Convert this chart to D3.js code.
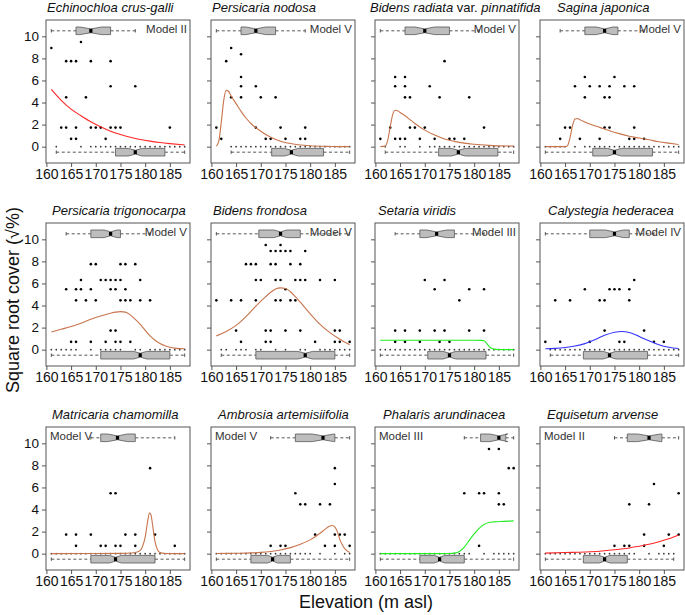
<!DOCTYPE html>
<html><head><meta charset="utf-8">
<script src="https://cdn.jsdelivr.net/npm/d3@7"></script>
<style>
body{margin:0;background:#fff}
svg{display:block}
text{font-family:"Liberation Sans",Arial,sans-serif}
</style>
</head><body>
<svg id="c" width="685" height="615"></svg>
<script>
// ---------------- DATA ----------------
const species = ["Echinochloa crus-galli","Persicaria nodosa","Bidens radiata var. pinnatifida","Sagina japonica",
  "Persicaria trigonocarpa","Bidens frondosa","Setaria viridis","Calystegia hederacea",
  "Matricaria chamomilla","Ambrosia artemisiifolia","Phalaris arundinacea","Equisetum arvense"];
const models = ["II","V","V","V","V","V","III","IV","V","V","III","II"];
const xTicks = [160,165,170,175,180,185];
const yTicks = [0,2,4,6,8,10];

// observed cover (elevation, sqrt cover) where present
const points = [
 [[161,8.94],[167,9.49],[164,7.75],[165,7.75],[166,7.75],[169,7.75],[173,7.75],[173,5.48],[178,5.48],[164,4.47],[168,4.47],
  [163,1.73],[164,1.73],[166,1.73],[169,1.73],[170,1.73],[171,1.73],[173,1.73],[174,1.73],[175,1.73],[185,1.73],[165,0.71],[166,0.71],[172,0.71]],
 [[164,8.94],[163,7.75],[166,8.37],[166,6.32],[166,5.48],[169,5.48],[164,4.47],[166,4.47],[170,4.47],[173,4.47],
  [161,1.73],[169,1.73],[174,1.73],[179,1.73],[162,0.71],[171,0.71],[172,0.71],[175,0.71],[178,0.71],[179,0.71]],
 [[174,7.75],[164,6.32],[166,6.32],[164,5.48],[166,5.48],[171,5.48],[166,4.47],[167,4.47],[173,4.47],[179,4.47],
  [163,1.73],[167,1.73],[168,1.73],[170,1.73],[182,1.73],[161,0.71],[164,0.71],[165,0.71],[166,0.71],[169,0.71],[172,0.71],[175,0.71],[176,0.71],[178,0.71]],
 [[169,6.32],[175,6.32],[167,5.48],[170,5.48],[172,5.48],[174,5.48],[177,5.48],[179,5.48],[169,4.47],[173,4.47],[174,4.47],
  [165,1.73],[166,1.73],[173,1.73],[174,1.73],[179,1.73],[164,0.71],[168,0.71],[172,0.71],[178,0.71],[179,0.71],[181,0.71]],
 [[169,7.75],[170,7.75],[175,7.75],[176,7.75],[178,7.75],
  [167,6.32],[171,6.32],[172,6.32],[173,6.32],[174,6.32],[175,6.32],[179,6.32],
  [164,5.48],[166,5.48],[167,5.48],[169,5.48],[173,5.48],[174,5.48],[176,5.48],
  [166,4.47],[168,4.47],[170,4.47],[175,4.47],[176,4.47],[177,4.47],[179,4.47],[181,4.47],
  [173,1.73],[174,1.73],
  [165,0.71],[166,0.71],[169,0.71],[172,0.71],[174,0.71],[175,0.71],[177,0.71]],
 [[171,9.49],[174,9.49],
  [172,8.94],[173,8.94],[174,8.94],[175,8.94],[176,8.94],[179,8.94],
  [167,7.75],[168,7.75],[169,7.75],[172,7.75],[173,7.75],[176,7.75],[178,7.75],
  [169,6.32],[170,6.32],[173,6.32],[174,6.32],[177,6.32],[178,6.32],[179,6.32],[182,6.32],[185,6.32],
  [175,5.48],
  [161,4.47],[164,4.47],[166,4.47],[169,4.47],[173,4.47],[174,4.47],[176,4.47],[177,4.47],
  [165,1.73],[171,1.73],[172,1.73],[175,1.73],[178,1.73],[185,1.73],[186,1.73],
  [166,0.71],[171,0.71],[172,0.71],[181,0.71],[185,0.71],[186,0.71],[188,0.71]],
 [[170,6.32],[174,6.32],[172,5.48],[179,5.48],[182,5.48],[177,4.47],
  [164,1.73],[166,1.73],[169,1.73],[172,1.73],[174,1.73],[179,1.73],[182,1.73],
  [164,0.71],[166,0.71],[169,0.71],[173,0.71],[175,0.71]],
 [[179,6.32],[169,5.48],[174,5.48],[175,5.48],[176,5.48],[178,5.48],
  [163,4.47],[166,4.47],[172,4.47],[173,4.47],[178,4.47],[173,1.73],[181,1.73],
  [161,0.71],[164,0.71],[170,0.71],[176,0.71],[177,0.71],[183,0.71],[185,0.71]],
 [[181,7.75],[173,5.48],[174,5.48],
  [164,1.73],[166,1.73],[169,1.73],[176,1.73],[178,1.73],[182,1.73],
  [166,0.71],[171,0.71],[172,0.71],[174,0.71],[175,0.71],[178,0.71],[186,0.71]],
 [[185,7.75],[185,6.32],[177,5.48],[178,4.47],[179,4.47],[182,4.47],[184,4.47],
  [181,1.73],[185,1.73],[186,1.73],[187,1.73],
  [172,0.71],[174,0.71],[175,0.71],[183,0.71],[185,0.71],[188,0.71]],
 [[183,9.49],[185,9.49],[187,7.75],[188,7.75],[178,5.48],[181,5.48],[182,5.48],[185,5.48],[185,4.47],[186,4.47],[181,0.71]],
 [[183,6.32],[188,5.48],[178,4.47],[182,4.47],[181,1.73],[186,1.73],[188,1.73],
  [175,0.71],[177,0.71],[178,0.71],[181,0.71],[185,0.71]]
];

// elevations with zero cover (absence)
const zeros = [
 [162,167,169,170,171,172,173,174,175,176,177,178,179,180,181,182,183,184,185,186,187,188],
 [164,165,166,167,168,169,170,171,172,173,174,175,176,177,178,179,180,181,182,183,184,185,186,187,188],
 [162,165,166,169,171,172,173,174,175,176,177,178,179,180,181,182,183,184,185,186,187,188],
 [161,162,163,164,165,167,169,170,171,172,173,174,175,176,177,178,179,180,181,182,183,184,185,186,187,188],
 [161,162,163,164,165,166,169,171,172,173,174,175,178,179,181,182,183,184,185,186,187,188],
 [162,163,165,166,167,169,170,173,175,178,179,182,183,184,185,186,187,188],
 [161,162,163,164,165,166,167,168,169,170,171,172,173,174,175,176,177,178,179,180,181,182,183,184,185,186,187,188],
 [162,163,164,165,166,167,168,169,170,171,172,173,174,175,176,177,178,179,180,181,182,183,184,185,186,187,188],
 [161,162,163,164,165,166,167,168,169,170,171,172,173,174,175,176,177,178,179,180,181,182,183,184,185,186,187,188],
 [161,162,163,164,165,166,167,168,169,170,171,172,173,174,175,176,177,178,179,180,182,185,187,188],
 [161,162,163,164,165,166,167,168,169,170,171,172,173,174,175,176,177,178,179,182,184,185,186,187,188],
 [161,162,163,164,165,166,167,168,169,170,171,172,173,174,175,176,177,178,179,182,184,185,186,187]
];

// box plot stats: [min, q1, median, q3, max, notch half-width]
const presentBox = [
 [161,166,169,173,178,2.2],[161,166,169,173,179,2.0],[161,166,170,175,181,2.0],[164,169,173,175.7,181,1.7],
 [164,169,173,175,181,1.3],[161,169.6,174,178,188,1.3],[164,169,172.4,176,182,2.0],[161,170,175,178,183,1.8],
 [169,171,174.4,178,186,2.0],[172,177,182.6,185,188,2.2],[178,181.3,185,186.4,188,1.8],[175,177.6,182,184.6,188,2.3]
];
const absentBox = [
 [162,174,178,184,188,1.4],[164,172.2,176.2,182.7,188,1.4],[162,172.8,176.8,184.8,188,1.4],[161,170.6,175,182.7,188,1.4],
 [161,171,179,185,188,1.3],[162,169,179,185,188,1.5],[161,170.6,175,182.4,188,1.3],[162,168.7,174,181.7,188,1.3],
 [161,169,174,182,188,1.2],[161,168,172.4,176,188,1.0],[161,169,173,178,188,1.1],[161,168.7,173,177.6,187,1.1]
];

// fitted response curves (elevation, sqrt cover)
const curves = [
 [[161,5.2],[163,4.2],[165,3.4],[167,2.8],[169,2.25],[171,1.8],[173,1.4],[175,1.1],[177,0.85],[179,0.65],[181,0.5],[183,0.38],[185,0.28],[188,0.15]],
 [[161,0.05],[161.5,0.5],[162,2.2],[162.5,4.2],[163,5.1],[163.5,5.0],[164,4.6],[165,3.9],[166,3.2],[167,2.6],[168,2.1],[170,1.4],[172,0.85],[174,0.5],[176,0.28],[178,0.15],[180,0.08],[184,0.02],[188,0]],
 [[161,0],[162,0.05],[162.5,0.6],[163,1.8],[163.5,2.9],[164,3.3],[164.5,3.25],[165,3.1],[166,2.8],[167,2.45],[168,2.1],[170,1.5],[172,1.05],[174,0.7],[176,0.48],[178,0.32],[180,0.22],[183,0.12],[188,0.05]],
 [[161,0],[165,0],[165.5,0.1],[166,0.8],[166.5,1.9],[167,2.5],[167.5,2.55],[168,2.45],[170,2.05],[172,1.75],[174,1.45],[176,1.18],[178,0.95],[180,0.78],[182,0.62],[184,0.45],[186,0.32],[188,0.2]],
 [[161,1.6],[163,1.85],[165,2.1],[167,2.4],[169,2.75],[171,3.05],[173,3.3],[174,3.4],[175,3.45],[176,3.4],[177,3.15],[178,2.75],[179,2.3],[180,1.75],[181,1.25],[182,0.85],[183,0.55],[184,0.35],[185,0.22],[186,0.14],[188,0.08]],
 [[161,1.25],[163,1.65],[165,2.2],[167,3.0],[169,3.95],[171,4.8],[172,5.2],[173,5.5],[174,5.6],[175,5.55],[176,5.25],[177,4.8],[178,4.3],[180,3.25],[182,2.3],[184,1.55],[186,0.95],[188,0.45]],
 [[161,0.85],[180,0.85],[181.5,0.84],[182,0.8],[182.5,0.6],[183,0.3],[183.5,0.12],[184,0.05],[185,0.01],[188,0]],
 [[161,0.08],[163,0.12],[165,0.2],[167,0.33],[169,0.55],[171,0.9],[173,1.3],[175,1.58],[176.5,1.65],[178,1.55],[180,1.2],[182,0.8],[184,0.45],[186,0.22],[188,0.1]],
 [[161,0],[170,0.01],[175,0.03],[177,0.06],[178,0.1],[179,0.3],[179.5,0.7],[180,1.5],[180.5,2.9],[180.9,3.7],[181.2,3.5],[181.5,2.6],[182,1.1],[182.5,0.35],[183,0.1],[184,0.02],[188,0]],
 [[161,0.02],[165,0.04],[168,0.07],[170,0.12],[172,0.2],[174,0.33],[176,0.55],[178,0.85],[180,1.25],[182,1.85],[183,2.2],[184,2.5],[184.5,2.55],[185,2.4],[185.5,2.0],[186,1.3],[186.5,0.8],[187,0.45],[188,0.1]],
 [[161,0],[175,0.01],[176,0.05],[177,0.2],[178,0.6],[179,1.2],[180,1.8],[181,2.3],[182,2.65],[183,2.82],[184,2.88],[186,2.93],[188,2.97]],
 [[161,0.05],[165,0.1],[169,0.15],[172,0.22],[175,0.35],[178,0.52],[180,0.68],[182,0.85],[184,1.08],[186,1.35],[188,1.7]]
];

// ---------------- LAYOUT ----------------
const colLeft = [46, 211, 375, 540];
const rowTop = [20, 223, 427];
const pw = 144, ph = 143;
const titleDx = [1, 1, -5, 17, 6, 2, 3, 8, 6, 7, 8, 7];
const xDomain = [159.92, 189.08], yDomain = [-1.48, 11.48];
const modelColor = {II: "#ff2626", III: "#22ee22", IV: "#3333ff", V: "#c8744c"};
const boxHalf = 3.8;

const svg = d3.select("#c");

function drawBox(g, x, yc, s) {
  const [mn, q1, md, q3, mx, nt] = s;
  const nl = md - nt, nh = md + nt;
  const wh = g.append("g").attr("stroke", "#444").attr("stroke-width", 0.9);
  wh.append("line").attr("x1", x(mn)).attr("x2", x(q1)).attr("y1", yc).attr("y2", yc).attr("stroke-dasharray", "3,2.5");
  wh.append("line").attr("x1", x(q3)).attr("x2", x(mx)).attr("y1", yc).attr("y2", yc).attr("stroke-dasharray", "3,2.5");
  [mn, mx].forEach(v => wh.append("line").attr("x1", x(v)).attr("x2", x(v)).attr("y1", yc - 1.7).attr("y2", yc + 1.7));
  const poly = [[q1, -1], [nl, -1], [md, -0.5], [nh, -1], [q3, -1], [q3, 1], [nh, 1], [md, 0.5], [nl, 1], [q1, 1]]
    .map(p => [x(p[0]), yc + p[1] * boxHalf]);
  g.append("polygon").attr("points", poly.map(p => p.join(",")).join(" "))
    .attr("fill", "#bdbdbd").attr("stroke", "#555").attr("stroke-width", 0.8);
  g.append("rect").attr("x", x(md) - 1.6).attr("y", yc - boxHalf * 0.5).attr("width", 3.2).attr("height", boxHalf)
    .attr("fill", "#000");
}

species.forEach((name, i) => {
  const r = Math.floor(i / 4), c = i % 4;
  const x0 = colLeft[c], y0 = rowTop[r];
  const x = d3.scaleLinear().domain(xDomain).range([x0, x0 + pw]);
  const y = d3.scaleLinear().domain(yDomain).range([y0 + ph, y0]);
  const g = svg.append("g");

  // axes
  const xa = g.append("g").attr("transform", `translate(0,${y0 + ph})`)
    .call(d3.axisBottom(x).tickValues(xTicks).tickSize(4).tickPadding(2).tickFormat(d3.format("d")));
  xa.select(".domain").remove();
  xa.selectAll("line").attr("stroke", "#555");
  xa.selectAll("text").attr("font-size", 14).attr("fill", "#111").attr("font-family", "Liberation Sans, Arial, sans-serif");

  const ya = g.append("g").attr("transform", `translate(${x0},0)`)
    .call(d3.axisLeft(y).tickValues(yTicks).tickSize(4).tickPadding(3).tickFormat(c === 0 ? d3.format("d") : () => ""));
  ya.select(".domain").remove();
  ya.selectAll("line").attr("stroke", "#555");
  ya.selectAll("text").attr("font-size", 13.5).attr("fill", "#111").attr("font-family", "Liberation Sans, Arial, sans-serif");

  // zero observations
  g.append("g").selectAll("circle").data(zeros[i]).join("circle")
    .attr("cx", d => x(d)).attr("cy", y(0)).attr("r", 0.85).attr("fill", "#333");

  // box plots
  drawBox(g, x, y(10.5), presentBox[i]);
  drawBox(g, x, y(-0.5), absentBox[i]);

  // observed points
  g.append("g").selectAll("circle").data(points[i]).join("circle")
    .attr("cx", d => x(d[0])).attr("cy", d => y(d[1])).attr("r", 1.3).attr("fill", "#000");

  // fitted curve
  g.append("path").datum(curves[i])
    .attr("d", d3.line().x(d => x(d[0])).y(d => y(d[1])).curve(d3.curveMonotoneX))
    .attr("fill", "none").attr("stroke", modelColor[models[i]]).attr("stroke-width", 1.1);

  // frame
  g.append("rect").attr("x", x0).attr("y", y0).attr("width", pw).attr("height", ph)
    .attr("fill", "none").attr("stroke", "#555").attr("stroke-width", 1);

  // model label
  const ml = g.append("text").attr("font-size", 11.5).attr("fill", "#333").attr("y", y0 + 13).text("Model " + models[i]);
  if (r < 2) ml.attr("x", x0 + pw - 3).attr("text-anchor", "end");
  else ml.attr("x", x0 + 4).attr("text-anchor", "start");

  // title
  const t = g.append("text").attr("x", x0 + titleDx[i]).attr("y", y0 - 8).attr("font-size", 13).attr("fill", "#111");
  const parts = name.split(" var. ");
  t.append("tspan").attr("font-style", "italic").text(parts[0]);
  if (parts.length > 1) {
    t.append("tspan").text(" var. ");
    t.append("tspan").attr("font-style", "italic").text(parts[1]);
  }
});

// axis titles
svg.append("text").attr("x", 366).attr("y", 608).attr("text-anchor", "middle").attr("font-size", 18).attr("fill", "#111")
  .text("Elevation (m asl)");
svg.append("text").attr("transform", "translate(19,300) rotate(-90)").attr("text-anchor", "middle").attr("font-size", 18)
  .attr("fill", "#111").text("Square root cover (√%)");
</script>
</body></html>
